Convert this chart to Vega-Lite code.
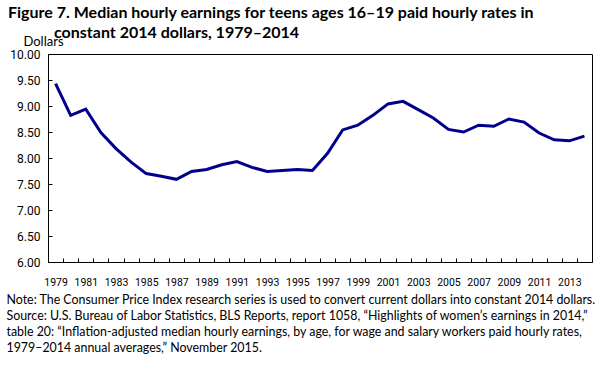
{
  "$schema": "https://vega.github.io/schema/vega-lite/v6.json",
  "width": 544,
  "height": 208,
  "autosize": "none",
  "padding": {"left": 48, "top": 54, "right": 14, "bottom": 105},
  "background": "white",
  "title": {
    "text": "Figure 7. Median hourly earnings for teens ages 16–19 paid hourly rates in",
    "subtitle": "\u200b\u2003\u2003\u2003\u2002\u2009constant 2014 dollars, 1979–2014",
    "anchor": "start",
    "frame": "group",
    "dx": -40,
    "dy": 20,
    "offset": 14,
    "font": "Lato",
    "fontSize": 16,
    "fontWeight": "bold",
    "color": "black",
    "subtitleFont": "Lato",
    "subtitleFontSize": 16,
    "subtitleFontWeight": "bold",
    "subtitleColor": "black",
    "subtitlePadding": 4
  },
  "data": {
    "values": [
      {"year": 1979, "earnings": 9.43},
      {"year": 1980, "earnings": 8.82},
      {"year": 1981, "earnings": 8.94},
      {"year": 1982, "earnings": 8.49},
      {"year": 1983, "earnings": 8.18},
      {"year": 1984, "earnings": 7.92},
      {"year": 1985, "earnings": 7.70},
      {"year": 1986, "earnings": 7.65},
      {"year": 1987, "earnings": 7.59},
      {"year": 1988, "earnings": 7.74},
      {"year": 1989, "earnings": 7.78},
      {"year": 1990, "earnings": 7.87},
      {"year": 1991, "earnings": 7.93},
      {"year": 1992, "earnings": 7.82},
      {"year": 1993, "earnings": 7.74},
      {"year": 1994, "earnings": 7.76},
      {"year": 1995, "earnings": 7.78},
      {"year": 1996, "earnings": 7.76},
      {"year": 1997, "earnings": 8.09},
      {"year": 1998, "earnings": 8.54},
      {"year": 1999, "earnings": 8.63},
      {"year": 2000, "earnings": 8.82},
      {"year": 2001, "earnings": 9.04},
      {"year": 2002, "earnings": 9.09},
      {"year": 2003, "earnings": 8.93},
      {"year": 2004, "earnings": 8.77},
      {"year": 2005, "earnings": 8.55},
      {"year": 2006, "earnings": 8.50},
      {"year": 2007, "earnings": 8.63},
      {"year": 2008, "earnings": 8.61},
      {"year": 2009, "earnings": 8.75},
      {"year": 2010, "earnings": 8.69},
      {"year": 2011, "earnings": 8.48},
      {"year": 2012, "earnings": 8.35},
      {"year": 2013, "earnings": 8.33},
      {"year": 2014, "earnings": 8.42}
    ]
  },
  "mark": {"type": "line", "color": "#00008c", "strokeWidth": 3, "strokeJoin": "miter"},
  "encoding": {
    "x": {
      "field": "year",
      "type": "ordinal",
      "bandPosition": 0.5,
      "scale": {"type": "band", "paddingInner": 0, "paddingOuter": 0},
      "axis": {
        "labelAngle": 0,
        "tickBand": "extent",
        "tickSize": -4,
        "labelPadding": 19,
        "labelBaseline": "top",
        "labelFontSize": 10.5,
        "labelExpr": "datum.value % 2 == 1 ? datum.label : ''",
        "title": [
          "Note: The Consumer Price Index research series is used to convert current dollars into constant 2014 dollars.",
          "Source: U.S. Bureau of Labor Statistics, BLS Reports, report 1058, “Highlights of women’s earnings in 2014,”",
          "table 20: “Inflation-adjusted median hourly earnings, by age, for wage and salary workers paid hourly rates,",
          "1979–2014 annual averages,” November 2015."
        ],
        "titleAlign": "left",
        "titleAnchor": "start",
        "titleBaseline": "top",
        "titleX": -42,
        "titleY": 31,
        "titleLineHeight": 16.3,
        "titleFont": "Lato",
        "titleFontSize": 12.4,
        "titleFontWeight": "normal"
      }
    },
    "y": {
      "field": "earnings",
      "type": "quantitative",
      "scale": {"domain": [6, 10], "nice": false, "zero": false},
      "axis": {
        "values": [6, 6.5, 7, 7.5, 8, 8.5, 9, 9.5, 10],
        "format": ".2f",
        "tickSize": -4,
        "labelPadding": 12,
        "labelFontSize": 12,
        "title": "Dollars",
        "titleAngle": 0,
        "titleAlign": "center",
        "titleBaseline": "middle",
        "titleX": -5,
        "titleY": -13,
        "titleFont": "Lato",
        "titleFontSize": 13,
        "titleFontWeight": "normal"
      }
    }
  },
  "config": {
    "view": {"stroke": "black", "strokeWidth": 1},
    "axis": {
      "domain": false,
      "grid": false,
      "ticks": true,
      "tickColor": "black",
      "tickWidth": 1,
      "labelFont": "Roboto",
      "labelColor": "black",
      "titleColor": "black"
    }
  }
}
